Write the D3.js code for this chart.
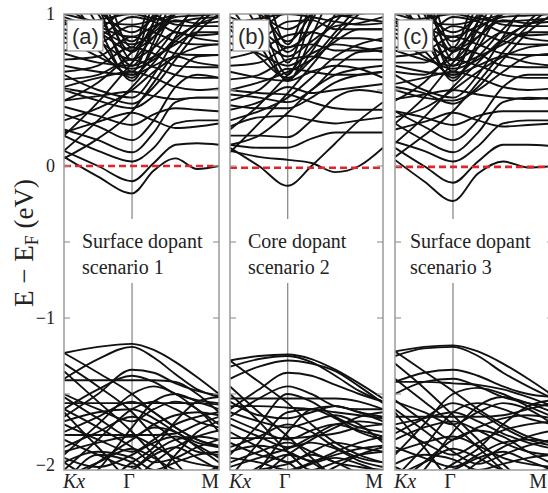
<!DOCTYPE html>
<html>
<head>
<meta charset="utf-8">
<script src="https://cdn.jsdelivr.net/npm/d3@7"></script>
<style>
  body { margin: 0; background: #fff; overflow: hidden; }
  svg { display: block; }
</style>
</head>
<body>
<svg id="chart" width="548" height="493"></svg>
<script>
// ---- data ----
const panelTags = ["(a)", "(b)", "(c)"];
const panelNotes = [
  ["Surface dopant", "scenario 1"],
  ["Core dopant", "scenario 2"],
  ["Surface dopant", "scenario 3"]
];
const kPointLabels = ["Kx", "Γ", "M"];
const gammaFraction = [0.439, 0.377, 0.367];   // position of Γ along each k-path
const fermiLevel = [0, -0.012, -0.006];        // eV
const energyTickLabels = [1, 0, -1, -2];
const energyTickMarks = [0.5, 0, -0.5, -1, -1.5];
// k samples: fractions of the Kx→Γ segment, then of the Γ→M segment
const leftSteps = [0, 0.5, 1];
const rightSteps = [0.25, 0.5, 0.75, 1];

// band energies (eV) at the seven k samples: Kx, ½, Γ, ¼, ½, ¾, M
const bandsA = [
  [0.06, -0.07, -0.18, -0.03, 0.05, -0.02, 0.00],
  [0.10, 0.00, -0.10, 0.02, 0.14, 0.15, 0.14],
  [0.20, 0.10, 0.03, 0.12, 0.28, 0.30, 0.30],
  [0.24, 0.17, 0.09, 0.22, 0.42, 0.45, 0.45],
  [0.34, 0.26, 0.17, 0.30, 0.52, 0.60, 0.58],
  [0.39, 0.33, 0.27, 0.34, 0.38, 0.37, 0.36],
  [0.22, 0.29, 0.35, 0.30, 0.25, 0.26, 0.28],
  [0.50, 0.43, 0.38, 0.46, 0.60, 0.72, 0.73],
  [0.43, 0.46, 0.49, 0.46, 0.44, 0.45, 0.45],
  [1.30, 0.92, 0.56, 0.82, 1.15, 1.50, 1.80],
  [1.15, 0.85, 0.58, 0.78, 1.05, 1.30, 1.50],
  [0.95, 0.76, 0.60, 0.72, 0.90, 1.05, 1.20],
  [1.50, 1.05, 0.62, 0.95, 1.40, 1.80, 2.20],
  [0.85, 0.72, 0.64, 0.70, 0.82, 0.95, 1.10],
  [0.10, 0.30, 0.52, 0.68, 0.84, 0.93, 0.98],
  [0.20, 0.42, 0.68, 0.85, 1.00, 1.10, 1.20],
  [0.43, 0.55, 0.75, 0.90, 1.00, 1.05, 1.05],
  [0.57, 0.60, 0.70, 0.65, 0.60, 0.58, 0.58],
  [0.62, 0.66, 0.78, 0.74, 0.66, 0.65, 0.65],
  [0.70, 0.72, 0.85, 0.80, 0.74, 0.73, 0.73],
  [0.76, 0.80, 0.92, 0.88, 0.82, 0.80, 0.80],
  [0.81, 0.85, 0.98, 0.95, 0.88, 0.86, 0.87],
  [0.87, 0.90, 1.05, 1.00, 0.93, 0.92, 0.92],
  [1.40, 1.10, 0.75, 0.95, 1.30, 1.60, 1.90],
  [1.30, 1.05, 0.82, 1.00, 1.25, 1.50, 1.70],
  [1.20, 1.02, 0.88, 0.98, 1.15, 1.35, 1.50],
  [1.60, 1.20, 0.70, 1.10, 1.55, 2.00, 2.40],
  [1.00, 0.95, 0.93, 0.96, 1.00, 1.10, 1.20],
  [0.60, 0.50, 0.45, 0.60, 0.85, 1.10, 1.30],
  [0.51, 0.47, 0.41, 0.52, 0.70, 0.88, 1.00],
  [1.70, 1.30, 0.78, 1.20, 1.70, 2.10, 2.50],
  [1.25, 1.00, 0.66, 0.90, 1.20, 1.45, 1.65],
  [0.98, 0.90, 0.80, 0.88, 1.02, 1.20, 1.35],
  [0.30, 0.38, 0.50, 0.62, 0.72, 0.78, 0.80],
  [0.05, 0.18, 0.36, 0.55, 0.75, 0.92, 1.05],
  [0.52, 0.58, 0.62, 0.58, 0.52, 0.50, 0.51],
  [0.66, 0.62, 0.60, 0.66, 0.72, 0.68, 0.66],
  [0.90, 0.82, 0.70, 0.78, 0.88, 0.84, 0.82],
  [0.96, 0.88, 0.76, 0.85, 0.96, 0.94, 0.95],
  [0.74, 0.68, 0.66, 0.72, 0.80, 0.88, 0.88],
  [1.05, 0.92, 0.85, 0.92, 0.98, 0.99, 1.00],
  [0.93, 0.96, 1.00, 0.97, 0.95, 0.97, 0.98],
  [-1.23, -1.19, -1.17, -1.21, -1.29, -1.39, -1.50],
  [-1.40, -1.27, -1.19, -1.26, -1.37, -1.47, -1.52],
  [-1.23, -1.36, -1.50, -1.62, -1.72, -1.80, -1.85],
  [-1.65, -1.50, -1.34, -1.36, -1.43, -1.48, -1.51],
  [-1.60, -1.47, -1.38, -1.42, -1.50, -1.54, -1.56],
  [-1.41, -1.41, -1.41, -1.41, -1.42, -1.50, -1.62],
  [-1.56, -1.56, -1.56, -1.56, -1.56, -1.56, -1.57],
  [-1.77, -1.77, -1.77, -1.77, -1.76, -1.70, -1.65],
  [-1.35, -1.55, -1.75, -1.90, -2.05, -2.10, -2.10],
  [-1.90, -1.70, -1.50, -1.45, -1.50, -1.60, -1.70],
  [-2.00, -1.80, -1.60, -1.55, -1.60, -1.68, -1.72],
  [-1.50, -1.60, -1.68, -1.60, -1.55, -1.60, -1.75],
  [-1.85, -1.75, -1.65, -1.70, -1.80, -1.88, -1.90],
  [-1.70, -1.80, -1.88, -1.80, -1.70, -1.65, -1.62],
  [-2.10, -1.95, -1.80, -1.72, -1.75, -1.85, -1.95],
  [-1.60, -1.72, -1.85, -1.95, -1.92, -1.85, -1.80],
  [-1.80, -1.90, -1.98, -1.88, -1.80, -1.78, -1.80],
  [-1.95, -1.88, -1.92, -2.00, -1.95, -1.90, -1.88],
  [-2.20, -2.00, -1.72, -1.55, -1.50, -1.55, -1.60],
  [-1.30, -1.45, -1.62, -1.78, -1.95, -2.10, -2.20],
  [-2.10, -1.90, -1.95, -2.05, -1.90, -1.75, -1.68],
  [-1.68, -1.62, -1.60, -1.66, -1.75, -1.82, -1.85],
  [-1.95, -2.05, -2.00, -1.90, -1.85, -1.92, -2.00],
  [-2.15, -2.10, -1.95, -1.85, -1.68, -1.55, -1.52],
  [-1.88, -1.82, -1.78, -1.84, -1.92, -1.96, -1.98],
  [-2.05, -1.95, -1.86, -1.92, -2.00, -2.02, -1.98],
  [-1.52, -1.66, -1.78, -1.70, -1.64, -1.62, -1.64],
  [-1.75, -1.65, -1.55, -1.62, -1.72, -1.80, -1.84],
  [-1.62, -1.85, -2.05, -1.95, -1.85, -1.78, -1.74],
  [-1.92, -1.98, -1.90, -1.82, -1.78, -1.84, -1.92]
];

const bandsB = [
  [0.12, 0.00, -0.13, 0.00, 0.15, 0.30, 0.42],
  [0.10, 0.06, 0.04, 0.02, -0.04, 0.00, 0.12],
  [0.14, 0.12, 0.12, 0.18, 0.22, 0.22, 0.22],
  [0.20, 0.20, 0.19, 0.30, 0.45, 0.50, 0.48],
  [0.26, 0.32, 0.33, 0.30, 0.28, 0.30, 0.32],
  [0.40, 0.38, 0.38, 0.45, 0.55, 0.60, 0.62],
  [0.50, 0.48, 0.47, 0.42, 0.38, 0.37, 0.37],
  [1.20, 0.90, 0.56, 0.85, 1.20, 1.50, 1.80],
  [1.05, 0.80, 0.57, 0.75, 1.00, 1.25, 1.45],
  [0.90, 0.72, 0.58, 0.70, 0.88, 1.05, 1.20],
  [1.40, 1.00, 0.60, 0.98, 1.40, 1.80, 2.20],
  [0.09, 0.28, 0.48, 0.66, 0.85, 1.00, 1.10],
  [0.24, 0.40, 0.60, 0.78, 0.95, 1.10, 1.20],
  [0.37, 0.42, 0.52, 0.48, 0.50, 0.52, 0.54],
  [0.43, 0.50, 0.64, 0.62, 0.60, 0.60, 0.62],
  [0.57, 0.60, 0.70, 0.72, 0.70, 0.70, 0.70],
  [0.66, 0.68, 0.78, 0.80, 0.76, 0.76, 0.78],
  [0.71, 0.76, 0.86, 0.88, 0.84, 0.84, 0.82],
  [0.76, 0.82, 0.95, 0.96, 0.90, 0.90, 0.90],
  [0.85, 0.90, 1.02, 1.05, 1.00, 0.97, 0.95],
  [1.35, 1.10, 0.75, 0.95, 1.30, 1.60, 1.90],
  [1.25, 1.05, 0.82, 1.00, 1.25, 1.50, 1.70],
  [1.60, 1.20, 0.68, 1.10, 1.60, 2.00, 2.40],
  [1.10, 1.00, 0.90, 1.00, 1.15, 1.30, 1.45],
  [0.14, 0.20, 0.35, 0.50, 0.60, 0.64, 0.66],
  [1.70, 1.30, 0.80, 1.20, 1.70, 2.10, 2.50],
  [0.50, 0.55, 0.62, 0.70, 0.82, 0.90, 0.90],
  [0.30, 0.36, 0.45, 0.58, 0.72, 0.80, 0.84],
  [0.62, 0.58, 0.56, 0.62, 0.66, 0.64, 0.58],
  [0.81, 0.74, 0.66, 0.74, 0.80, 0.78, 0.75],
  [0.92, 0.84, 0.72, 0.82, 0.92, 0.94, 0.98],
  [0.98, 0.90, 0.78, 0.88, 0.98, 1.00, 1.02],
  [0.47, 0.45, 0.42, 0.50, 0.65, 0.75, 0.76],
  [0.94, 0.97, 1.00, 0.98, 0.95, 0.93, 0.94],
  [-1.28, -1.25, -1.24, -1.27, -1.34, -1.43, -1.53],
  [-1.32, -1.27, -1.25, -1.29, -1.38, -1.48, -1.55],
  [-1.40, -1.32, -1.28, -1.30, -1.35, -1.45, -1.56],
  [-1.28, -1.42, -1.56, -1.70, -1.82, -1.90, -1.95],
  [-1.60, -1.47, -1.36, -1.38, -1.44, -1.50, -1.55],
  [-1.65, -1.53, -1.45, -1.50, -1.58, -1.60, -1.60],
  [-1.53, -1.53, -1.53, -1.53, -1.53, -1.55, -1.60],
  [-1.58, -1.58, -1.59, -1.60, -1.62, -1.64, -1.66],
  [-1.79, -1.79, -1.79, -1.78, -1.76, -1.72, -1.70],
  [-1.90, -1.70, -1.50, -1.55, -1.65, -1.72, -1.75],
  [-2.05, -1.82, -1.62, -1.60, -1.66, -1.75, -1.80],
  [-1.45, -1.62, -1.78, -1.92, -2.05, -2.10, -2.10],
  [-1.70, -1.78, -1.85, -1.78, -1.70, -1.68, -1.70],
  [-1.85, -1.78, -1.70, -1.75, -1.85, -1.92, -1.95],
  [-1.95, -1.88, -1.82, -1.88, -1.95, -1.98, -2.00],
  [-1.75, -1.85, -1.95, -1.88, -1.82, -1.85, -1.88],
  [-2.10, -1.98, -1.90, -1.95, -2.05, -2.10, -2.10],
  [-1.62, -1.68, -1.72, -1.68, -1.64, -1.70, -1.82],
  [-2.20, -2.00, -1.75, -1.60, -1.58, -1.62, -1.65],
  [-1.92, -1.95, -2.00, -1.95, -1.88, -1.82, -1.78],
  [-1.50, -1.68, -1.88, -2.00, -1.95, -1.90, -1.88],
  [-2.05, -2.00, -1.96, -1.90, -1.95, -2.02, -2.05],
  [-1.82, -1.90, -1.95, -2.05, -1.98, -1.90, -1.85],
  [-2.15, -2.05, -1.90, -1.80, -1.72, -1.65, -1.62],
  [-1.66, -1.74, -1.80, -1.74, -1.70, -1.74, -1.78],
  [-1.88, -1.84, -1.88, -1.94, -1.90, -1.86, -1.84],
  [-1.98, -1.92, -1.86, -1.82, -1.86, -1.94, -1.98],
  [-1.55, -1.64, -1.66, -1.62, -1.58, -1.62, -1.68],
  [-2.02, -2.06, -2.02, -1.96, -1.92, -1.96, -2.02]
];

const bandsC = [
  [0.04, -0.10, -0.23, -0.05, 0.03, -0.01, 0.00],
  [0.12, 0.00, -0.11, 0.03, 0.14, 0.14, 0.13],
  [0.16, 0.10, 0.03, 0.13, 0.28, 0.30, 0.30],
  [0.28, 0.17, 0.09, 0.22, 0.42, 0.45, 0.44],
  [0.36, 0.26, 0.17, 0.30, 0.52, 0.60, 0.60],
  [0.36, 0.32, 0.27, 0.33, 0.36, 0.36, 0.36],
  [0.24, 0.29, 0.35, 0.30, 0.26, 0.27, 0.28],
  [0.50, 0.45, 0.43, 0.50, 0.62, 0.72, 0.74],
  [0.44, 0.47, 0.50, 0.47, 0.45, 0.44, 0.45],
  [1.30, 0.92, 0.56, 0.82, 1.15, 1.50, 1.80],
  [1.15, 0.85, 0.58, 0.78, 1.05, 1.30, 1.50],
  [0.95, 0.76, 0.60, 0.72, 0.90, 1.05, 1.20],
  [1.50, 1.05, 0.62, 0.95, 1.40, 1.80, 2.20],
  [0.85, 0.72, 0.64, 0.70, 0.82, 0.95, 1.10],
  [0.15, 0.32, 0.52, 0.68, 0.84, 0.93, 0.98],
  [0.28, 0.45, 0.68, 0.85, 1.00, 1.10, 1.20],
  [0.62, 0.60, 0.70, 0.66, 0.60, 0.58, 0.58],
  [0.68, 0.68, 0.78, 0.74, 0.66, 0.65, 0.65],
  [0.72, 0.75, 0.85, 0.80, 0.74, 0.73, 0.73],
  [0.78, 0.80, 0.92, 0.88, 0.82, 0.80, 0.80],
  [0.87, 0.86, 0.98, 0.95, 0.88, 0.86, 0.87],
  [0.92, 0.92, 1.05, 1.00, 0.93, 0.92, 0.92],
  [1.40, 1.10, 0.75, 0.95, 1.30, 1.60, 1.90],
  [1.30, 1.05, 0.82, 1.00, 1.25, 1.50, 1.70],
  [1.20, 1.02, 0.88, 0.98, 1.15, 1.35, 1.50],
  [1.60, 1.20, 0.70, 1.10, 1.55, 2.00, 2.40],
  [1.00, 0.95, 0.93, 0.96, 1.00, 1.10, 1.20],
  [0.60, 0.50, 0.45, 0.60, 0.85, 1.10, 1.30],
  [0.52, 0.48, 0.41, 0.52, 0.70, 0.88, 1.00],
  [1.70, 1.30, 0.78, 1.20, 1.70, 2.10, 2.50],
  [1.25, 1.00, 0.66, 0.90, 1.20, 1.45, 1.65],
  [0.43, 0.55, 0.75, 0.90, 1.00, 1.05, 1.05],
  [0.32, 0.38, 0.50, 0.62, 0.72, 0.78, 0.80],
  [0.06, 0.20, 0.36, 0.55, 0.75, 0.92, 1.05],
  [0.54, 0.58, 0.62, 0.58, 0.52, 0.50, 0.51],
  [0.66, 0.62, 0.60, 0.66, 0.72, 0.68, 0.66],
  [0.90, 0.82, 0.70, 0.78, 0.88, 0.84, 0.82],
  [0.97, 0.88, 0.76, 0.85, 0.96, 0.94, 0.95],
  [0.76, 0.70, 0.66, 0.72, 0.80, 0.88, 0.88],
  [1.05, 0.92, 0.85, 0.92, 0.98, 0.99, 1.00],
  [0.95, 0.97, 1.00, 0.97, 0.95, 0.96, 0.97],
  [-1.22, -1.19, -1.18, -1.22, -1.30, -1.40, -1.51],
  [-1.25, -1.20, -1.19, -1.25, -1.36, -1.45, -1.53],
  [-1.22, -1.35, -1.48, -1.60, -1.70, -1.78, -1.82],
  [-1.42, -1.36, -1.34, -1.38, -1.45, -1.50, -1.52],
  [-1.50, -1.42, -1.40, -1.45, -1.52, -1.56, -1.58],
  [-1.42, -1.42, -1.43, -1.44, -1.47, -1.52, -1.58],
  [-1.65, -1.65, -1.65, -1.65, -1.64, -1.60, -1.56],
  [-1.40, -1.55, -1.70, -1.85, -2.00, -2.10, -2.15],
  [-1.90, -1.70, -1.50, -1.46, -1.50, -1.58, -1.65],
  [-2.05, -1.85, -1.62, -1.56, -1.60, -1.66, -1.70],
  [-1.55, -1.62, -1.70, -1.62, -1.56, -1.60, -1.70],
  [-1.80, -1.72, -1.68, -1.74, -1.82, -1.88, -1.90],
  [-1.72, -1.82, -1.90, -1.82, -1.74, -1.70, -1.68],
  [-2.10, -1.95, -1.80, -1.74, -1.78, -1.88, -1.96],
  [-1.60, -1.74, -1.88, -1.96, -1.90, -1.84, -1.80],
  [-1.85, -1.92, -1.98, -1.90, -1.82, -1.80, -1.82],
  [-1.96, -1.90, -1.93, -2.00, -1.96, -1.92, -1.90],
  [-2.20, -2.00, -1.75, -1.58, -1.52, -1.56, -1.62],
  [-1.30, -1.46, -1.64, -1.80, -1.96, -2.10, -2.20],
  [-1.70, -1.66, -1.62, -1.68, -1.76, -1.82, -1.86],
  [-2.15, -2.08, -1.96, -1.86, -1.70, -1.58, -1.54],
  [-1.98, -2.04, -2.00, -1.92, -1.88, -1.94, -2.00],
  [-1.88, -1.82, -1.78, -1.84, -1.92, -1.96, -1.98],
  [-2.04, -1.95, -1.86, -1.92, -2.00, -2.02, -1.98],
  [-1.54, -1.68, -1.80, -1.72, -1.66, -1.64, -1.66],
  [-1.76, -1.66, -1.56, -1.62, -1.72, -1.80, -1.84],
  [-1.62, -1.85, -2.05, -1.95, -1.85, -1.78, -1.74]
];
const panelBands = [bandsA, bandsB, bandsC];

// ---- layout ----
const width = 548;
const panelEdges = [[64, 219], [230, 383], [395, 553]];
const noteInset = [18, 18, 15];
const plotTop = 14, plotBottom = 470;
const serif = "Liberation Serif, Times New Roman, serif";
const sans = "Liberation Sans, Arial, sans-serif";

const svg = d3.select("#chart");
const y = d3.scaleLinear().domain([-2, 1]).range([plotBottom, plotTop]);

panelBands.forEach((bands, p) => {
  const [x0, x1] = panelEdges[p];
  const g = gammaFraction[p];
  const kFrac = leftSteps.map(s => s * g).concat(rightSteps.map(s => g + s * (1 - g)));
  const x = d3.scaleLinear().domain([0, 1]).range([x0, x1]);
  const gx = x(g);

  const panel = svg.append("g");
  const clipId = "clip" + p;
  svg.append("clipPath").attr("id", clipId)
    .append("rect").attr("x", x0).attr("y", plotTop)
    .attr("width", x1 - x0).attr("height", plotBottom - plotTop);

  const inner = panel.append("g").attr("clip-path", `url(#${clipId})`);

  // Γ marker line
  inner.append("line")
    .attr("x1", gx).attr("x2", gx).attr("y1", plotTop).attr("y2", plotBottom)
    .attr("stroke", "#8c8c8c").attr("stroke-width", 1.3);

  // bands
  const line = d3.line()
    .x((d, i) => x(kFrac[i]))
    .y(d => y(d))
    .curve(d3.curveMonotoneX);
  inner.selectAll("path.band").data(bands).join("path")
    .attr("class", "band")
    .attr("d", line)
    .attr("fill", "none")
    .attr("stroke", "#111")
    .attr("stroke-width", 1.9);

  // Fermi level
  inner.append("line")
    .attr("x1", x0).attr("x2", x1)
    .attr("y1", y(fermiLevel[p])).attr("y2", y(fermiLevel[p]))
    .attr("stroke", "#e2232b").attr("stroke-width", 2.6)
    .attr("stroke-dasharray", "7,4");

  // scenario note on a white plate
  const note = inner.append("g");
  const plate = note.append("rect").attr("fill", "#fff");
  const noteText = note.append("text")
    .attr("font-family", serif).attr("font-size", 20).attr("fill", "#222");
  panelNotes[p].forEach((s, i) => {
    noteText.append("tspan").attr("x", x0 + noteInset[p]).attr("y", 248 + i * 26).text(s);
  });
  const bb = noteText.node().getBBox();
  plate.attr("x", bb.x - 4).attr("y", 219)
    .attr("width", bb.width + 8).attr("height", 64);

  // inward ticks on both sides
  energyTickMarks.forEach(v => {
    [[x0, x0 + 6], [x1, x1 - 6]].forEach(([a, b]) => {
      panel.append("line")
        .attr("x1", a).attr("x2", b).attr("y1", y(v)).attr("y2", y(v))
        .attr("stroke", "#9a9a9a").attr("stroke-width", 1.2);
    });
  });

  // panel tag box
  const tagG = panel.append("g");
  const tagBox = tagG.append("rect").attr("fill", "#fff")
    .attr("stroke", "#9a9a9a").attr("stroke-width", 1.2);
  const tag = tagG.append("text")
    .attr("x", x0 + 8).attr("y", 44)
    .attr("font-family", sans).attr("font-size", 22).attr("fill", "#2a2a2a")
    .text(panelTags[p]);
  const tb = tag.node().getBBox();
  tagBox.attr("x", tb.x - 5).attr("y", 20).attr("width", tb.width + 9).attr("height", 31);

  // frame
  panel.append("rect")
    .attr("x", x0).attr("y", plotTop)
    .attr("width", x1 - x0).attr("height", plotBottom - plotTop)
    .attr("fill", "none").attr("stroke", "#9a9a9a").attr("stroke-width", 1.5);

  // k-point labels (kept inside the page width)
  const kLab = panel.append("g").attr("font-family", serif).attr("font-size", 20).attr("fill", "#222");
  kLab.append("text").attr("x", x0 - 1).attr("y", 488).attr("font-style", "italic").text(kPointLabels[0]);
  kLab.append("text").attr("x", gx - 3).attr("y", 488).attr("text-anchor", "middle").text(kPointLabels[1]);
  kLab.append("text").attr("x", Math.min(x1, width - 1)).attr("y", 488).attr("text-anchor", "end").text(kPointLabels[2]);
});

// energy tick labels
svg.append("g").selectAll("text").data(energyTickLabels).join("text")
  .attr("x", 55)
  .attr("y", d => Math.min(y(d), 465))
  .attr("dy", "0.35em")
  .attr("text-anchor", "end")
  .attr("font-family", serif).attr("font-size", 18).attr("fill", "#222")
  .text(d => d < 0 ? "\u2212" + Math.abs(d) : d);

// axis title
const title = svg.append("text")
  .attr("transform", "translate(33,243) rotate(-90)")
  .attr("text-anchor", "middle")
  .attr("font-family", serif).attr("font-size", 27).attr("fill", "#222");
title.append("tspan").text("E \u2212 E");
title.append("tspan").attr("font-size", 18).attr("baseline-shift", "-25%").text("F");
title.append("tspan").text(" (eV)");
</script>
</body>
</html>
